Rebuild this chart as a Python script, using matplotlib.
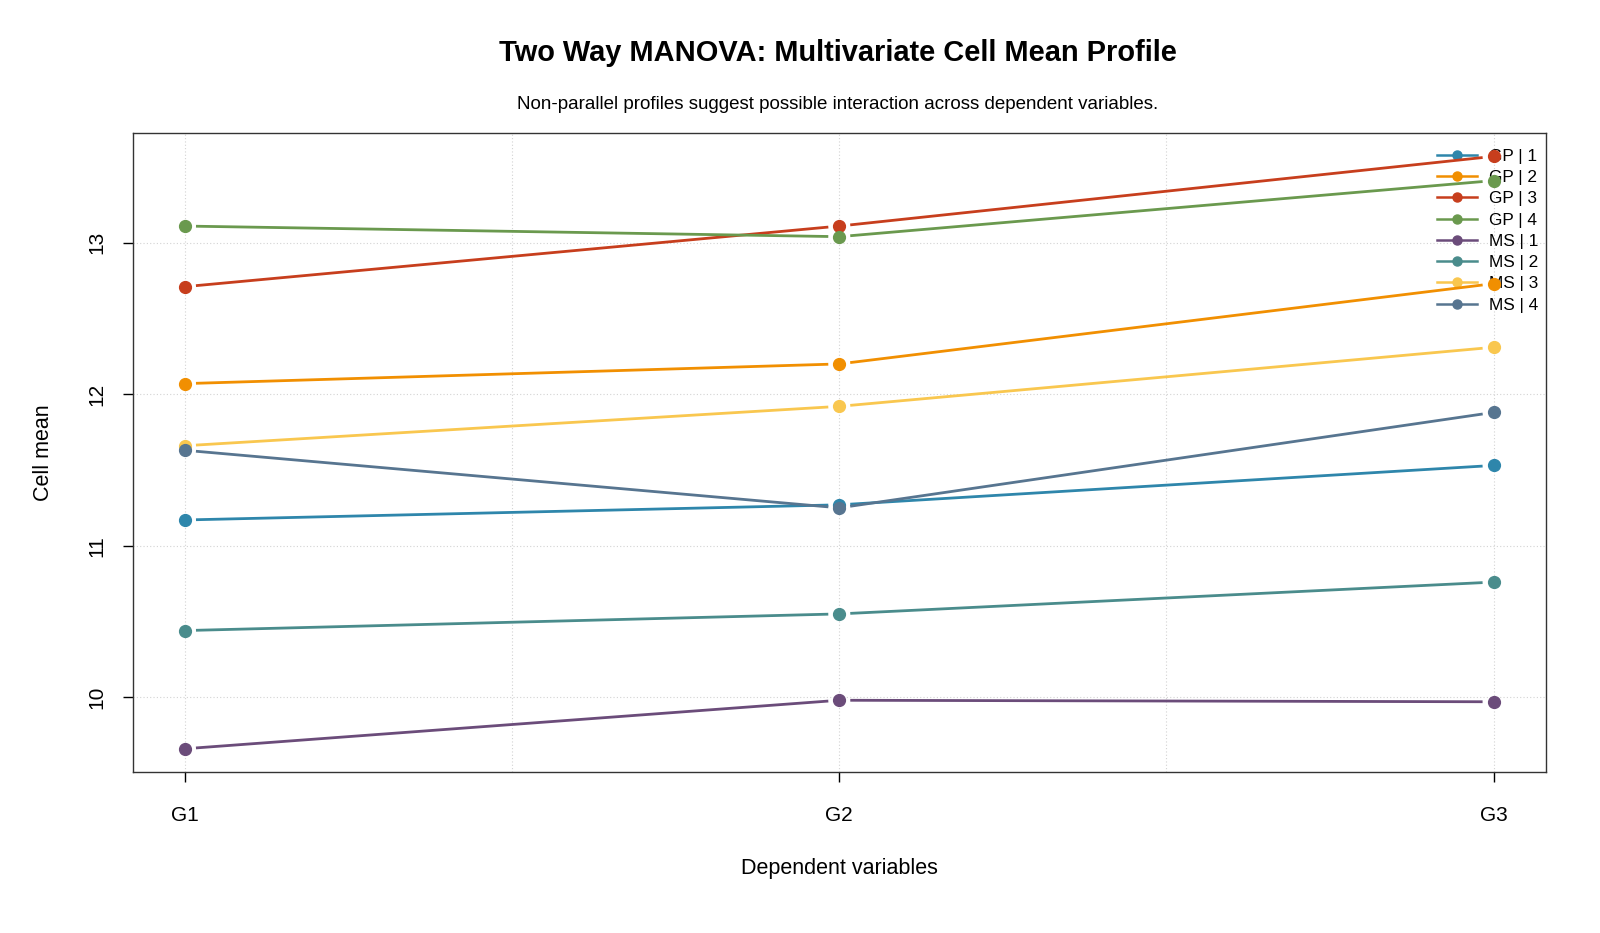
import numpy as np
import matplotlib.pyplot as plt

plt.rcParams['font.family'] = ['Liberation Sans', 'DejaVu Sans']

dvs = ["G1", "G2", "G3"]
groups = ["GP | 1", "GP | 2", "GP | 3", "GP | 4", "MS | 1", "MS | 2", "MS | 3", "MS | 4"]
gp1 = [11.17, 11.27, 11.53]
gp2 = [12.07, 12.20, 12.73]
gp3 = [12.71, 13.11, 13.57]
gp4 = [13.11, 13.04, 13.41]
ms1 = [9.66, 9.98, 9.97]
ms2 = [10.44, 10.55, 10.76]
ms3 = [11.66, 11.92, 12.31]
ms4 = [11.63, 11.25, 11.88]
means = [gp1, gp2, gp3, gp4, ms1, ms2, ms3, ms4]
colors = ["#2E86AB", "#F18F01", "#C73E1D", "#6A994E",
          "#6B4C7A", "#4A8C8C", "#F9C74F", "#577590"]

fig = plt.figure(figsize=(16, 9.33), dpi=100)
ax = fig.add_axes([0.0829, 0.1721, 0.8833, 0.6857])

x = np.arange(1, len(dvs) + 1)
allv = np.concatenate(means)
pad = 0.04 * (allv.max() - allv.min())
ax.set_xlim(0.92, 3.08)
ax.set_ylim(allv.min() - pad, allv.max() + pad)

# grid like R grid()
for gx in [1, 1.5, 2, 2.5, 3]:
    ax.axvline(gx, color="#d3d3d3", lw=0.8, ls=(0, (1, 2)), zorder=0)
for gy in [10, 11, 12, 13]:
    ax.axhline(gy, color="#d3d3d3", lw=0.8, ls=(0, (1, 2)), zorder=0)

# type = "b": points with gaps in the lines (gap in pixels)
gap = 11.0
inv = ax.transData.inverted()
for vals, col, name in zip(means, colors, groups):
    pts = ax.transData.transform(np.column_stack([x, vals]))
    for i in range(len(x) - 1):
        p0, p1 = pts[i], pts[i + 1]
        d = (p1 - p0) / np.hypot(*(p1 - p0))
        seg = inv.transform(np.vstack([p0 + d * gap, p1 - d * gap]))
        ax.plot(seg[:, 0], seg[:, 1], color=col, lw=2.0,
                solid_capstyle="butt", zorder=3)
    ax.plot(x, vals, ls="none", marker="o", ms=8.5, color=col, zorder=4)
    ax.plot([], [], color=col, lw=1.8, marker="o", ms=6.5, label=name)

ax.set_xticks(x)
ax.set_xticklabels(dvs, fontsize=15)
ax.set_yticks([10, 11, 12, 13])
ax.set_yticklabels(["10", "11", "12", "13"], fontsize=15, rotation=90, va="center")
ax.tick_params(axis="x", length=7, width=1, pad=17)
ax.tick_params(axis="y", length=7, width=1, pad=12)
for s in ax.spines.values():
    s.set_linewidth(1.0)
    s.set_color("#333333")

ax.set_xlabel("Dependent variables", fontsize=15.5, labelpad=24)
ax.set_ylabel("Cell mean", fontsize=15.5, labelpad=24)

fig.text(0.5236, 0.943, "Two Way MANOVA: Multivariate Cell Mean Profile",
         ha="center", va="center", fontsize=20.9, fontweight="bold")
fig.text(0.5236, 0.888, "Non-parallel profiles suggest possible interaction across dependent variables.",
         ha="center", va="center", fontsize=13.5)

leg = ax.legend(loc="upper right", bbox_to_anchor=(1.0, 0.987), frameon=False,
                fontsize=12.4, handlelength=2.3, labelspacing=0.36,
                handletextpad=0.7, borderpad=0.25, borderaxespad=0.2)
leg.set_zorder(1)

fig.savefig("out.png", dpi=100)
